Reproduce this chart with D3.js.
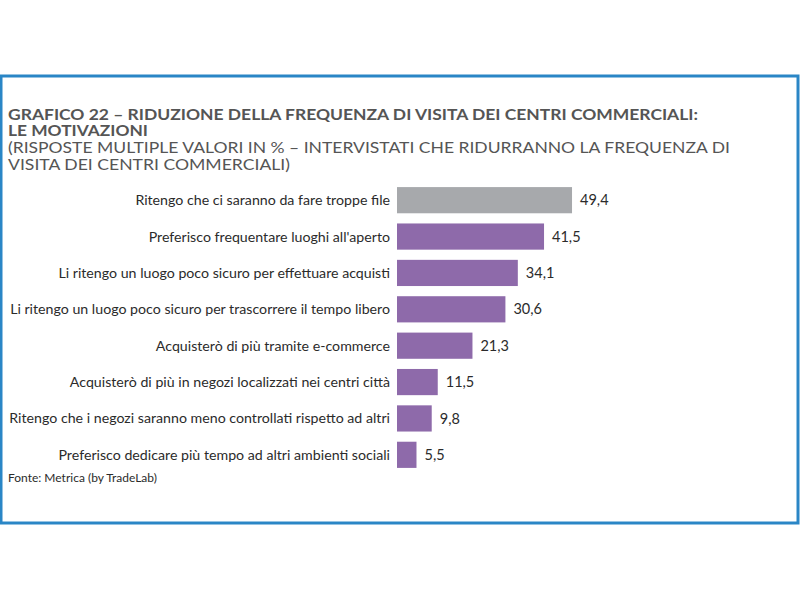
<!DOCTYPE html>
<html><head><meta charset="utf-8">
<script src="https://cdn.jsdelivr.net/npm/d3@7"></script>
<style>body{margin:0;background:#fff}svg{display:block}text{font-family:"Lato","Noto Sans",sans-serif}</style>
</head><body><svg id="c" width="800" height="600"></svg>
<script>
const categories = [
  "Ritengo che ci saranno da fare troppe file",
  "Preferisco frequentare luoghi all'aperto",
  "Li ritengo un luogo poco sicuro per effettuare acquisti",
  "Li ritengo un luogo poco sicuro per trascorrere il tempo libero",
  "Acquisterò di più tramite e-commerce",
  "Acquisterò di più in negozi localizzati nei centri città",
  "Ritengo che i negozi saranno meno controllati rispetto ad altri",
  "Preferisco dedicare più tempo ad altri ambienti sociali"
];
const values = [49.4, 41.5, 34.1, 30.6, 21.3, 11.5, 9.8, 5.5];
const valueLabels = ["49,4","41,5","34,1","30,6","21,3","11,5","9,8","5,5"];
const titleLines = ["GRAFICO 22 – RIDUZIONE DELLA FREQUENZA DI VISITA DEI CENTRI COMMERCIALI:", "LE MOTIVAZIONI"];
const subtitleLines = ["(RISPOSTE MULTIPLE VALORI IN % – INTERVISTATI CHE RIDURRANNO LA FREQUENZA DI", "VISITA DEI CENTRI COMMERCIALI)"];
const source = "Fonte: Metrica (by TradeLab)";

const svg = d3.select("#c");
// frame
svg.append("rect").attr("x",1).attr("y",76).attr("width",797).attr("height",447)
  .attr("fill","none").attr("stroke","#2a86c6").attr("stroke-width",3);

const x = d3.scaleLinear().domain([0, 50]).range([397, 397 + 3.543*50]);
const y = d3.scaleBand().domain(categories).range([182, 473]).paddingInner(0.28).paddingOuter(0.14);

svg.selectAll("rect.bar").data(categories).join("rect").attr("class","bar")
  .attr("x", x(0)).attr("y", d => y(d))
  .attr("width", (d,i) => x(values[i]) - x(0)).attr("height", y.bandwidth())
  .attr("fill", (d,i) => i === 0 ? "#a7a9ac" : "#8e6aaa");

svg.selectAll("text.cat").data(categories).join("text").attr("class","cat")
  .attr("x", 390).attr("y", d => y(d) + y.bandwidth()/2).attr("dy","0.35em")
  .attr("text-anchor","end").attr("font-size",14.2).attr("fill","#2b2b2b").text(d => d);

svg.selectAll("text.val").data(categories).join("text").attr("class","val")
  .attr("x", (d,i) => x(values[i]) + 8).attr("y", d => y(d) + y.bandwidth()/2).attr("dy","0.35em")
  .attr("font-size",14.5).attr("fill","#2b2b2b").text((d,i) => valueLabels[i]);

const tl = [[titleLines[0],120,690],[titleLines[1],136,140]];
tl.forEach(([t,yy,w]) => {
  svg.append("text").attr("x",8).attr("y",yy).attr("font-size",14.5).attr("font-weight","bold")
    .attr("fill","#555555").text(t)
    .attr("textLength", w).attr("lengthAdjust","spacingAndGlyphs");
});
const sl = [[subtitleLines[0],153,722],[subtitleLines[1],170,282]];
sl.forEach(([t,yy,w]) => {
  svg.append("text").attr("x",8).attr("y",yy).attr("font-size",14.5).attr("font-weight","normal")
    .attr("fill","#555555").text(t)
    .attr("textLength", w).attr("lengthAdjust","spacingAndGlyphs");
});
svg.append("text").attr("x",8).attr("y",482).attr("font-size",12).attr("fill","#2b2b2b").text(source);
</script></body></html>
